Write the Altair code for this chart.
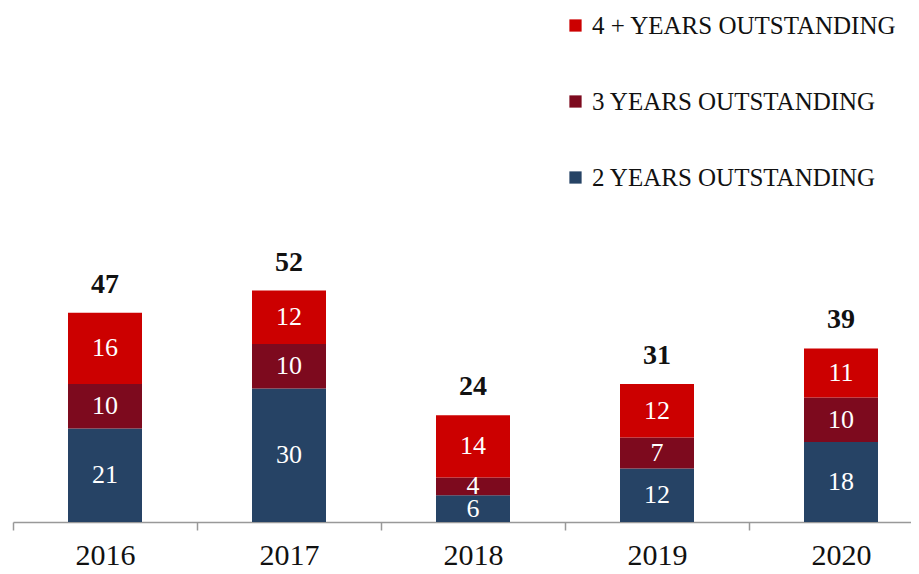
import altair as alt
import pandas as pd

years = ["2016", "2017", "2018", "2019", "2020"]
two_years = [21, 30, 6, 12, 18]
three_years = [10, 10, 4, 7, 10]
four_years = [16, 12, 14, 12, 11]
totals = [47, 52, 24, 31, 39]
series = ["2 YEARS OUTSTANDING", "3 YEARS OUTSTANDING", "4 + YEARS OUTSTANDING"]
legend_order = ["4 + YEARS OUTSTANDING", "3 YEARS OUTSTANDING", "2 YEARS OUTSTANDING"]
colors = ["#CC0000", "#7D0A1E", "#264365"]

rows = []
for i, y in enumerate(years):
    for k, (s, vals) in enumerate(zip(series, [two_years, three_years, four_years])):
        rows.append({"year": y, "series": s, "order": k, "value": vals[i]})
df = pd.DataFrame(rows)
tot = pd.DataFrame({"year": years, "total": totals})

FONT = "Liberation Serif"
xscale = alt.Scale(domain=years, range=[0, 920], paddingInner=0, paddingOuter=0)
yscale = alt.Scale(domain=[0, 115.5], nice=False, zero=True)
xaxis = alt.Axis(labelAngle=0, labelFont=FONT, labelFontSize=30, labelColor="#111",
                 domainColor="#999", tickColor="#999", tickSize=8, tickBand="extent",
                 grid=False, labelPadding=10, domainWidth=1.5, tickWidth=1.5, title=None)

base = alt.Chart(df).transform_stack(
    stack="value", groupby=["year"], sort=[alt.SortField("order")], as_=["y0", "y1"]
).transform_calculate(mid="(datum.y0 + datum.y1) / 2")

bars = base.mark_bar(size=74).encode(
    x=alt.X("year:N", scale=xscale, axis=xaxis),
    y=alt.Y("y0:Q", scale=yscale, axis=None),
    y2="y1:Q",
    color=alt.Color("series:N", scale=alt.Scale(domain=legend_order, range=colors),
                    legend=alt.Legend(title=None, orient="none", legendX=550, legendY=5,
                                      symbolType="square", symbolSize=150, symbolStrokeWidth=0,
                                      labelFont=FONT, labelFontSize=25, labelColor="#111",
                                      rowPadding=50, labelOffset=4, labelLimit=400)),
)

seg_text = base.mark_text(font=FONT, fontSize=26, color="white", baseline="middle").encode(
    x=alt.X("year:N", scale=xscale, axis=xaxis),
    y=alt.Y("mid:Q", scale=yscale, axis=None),
    text="value:Q",
)

tot_text = alt.Chart(tot).mark_text(font=FONT, fontSize=28, fontWeight="bold", color="#111",
                                    baseline="middle", dy=-28).encode(
    x=alt.X("year:N", scale=xscale, axis=xaxis),
    y=alt.Y("total:Q", scale=yscale, axis=None),
    text="total:Q",
)

chart = alt.layer(bars, seg_text, tot_text).properties(
    width=898, height=514,
    background="white",
    autosize=alt.AutoSizeParams(type="none"),
    padding={"left": 5, "top": 0, "right": 0, "bottom": 52},
).configure_view(stroke="transparent", strokeWidth=0)

chart.save("out.html", embed_options={"renderer": "svg", "actions": False})
